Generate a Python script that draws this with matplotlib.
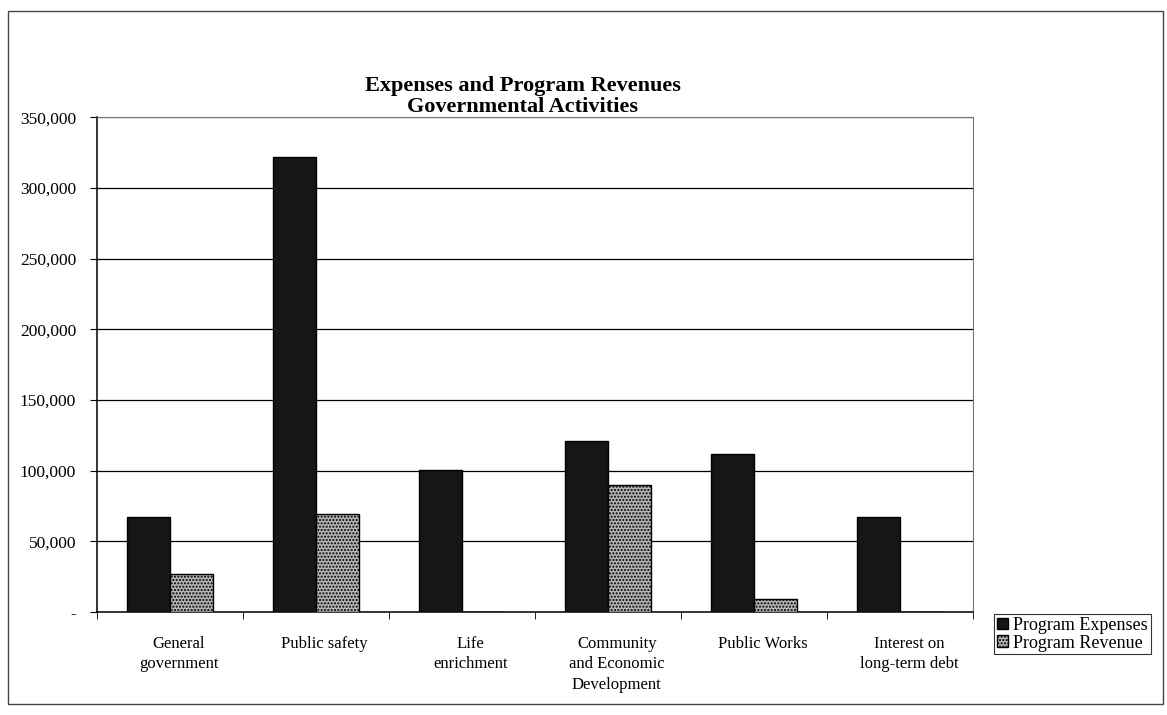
import numpy as np
import matplotlib.pyplot as plt
from matplotlib.patches import Rectangle
from matplotlib.ticker import FuncFormatter

categories = ['General\ngovernment', 'Public safety', 'Life\nenrichment',
              'Community\nand Economic\nDevelopment', 'Public Works',
              'Interest on\nlong-term debt']
program_expenses = [67000, 322000, 100500, 121000, 112000, 67000]
program_revenue = [27000, 69000, 0, 90000, 9000, 0]
y_ticks = [0, 50000, 100000, 150000, 200000, 250000, 300000, 350000]

plt.rcParams['font.family'] = ['Liberation Serif', 'DejaVu Serif']

fig = plt.figure(figsize=(11.67, 7.15), dpi=100)
ax = fig.add_axes([0.083, 0.144, 0.751, 0.692])

x = np.arange(len(categories))
w = 0.295
ax.bar(x - w / 2, program_expenses, w, color='#161616', edgecolor='black',
       linewidth=1.0, label='Program Expenses', zorder=3)
ax.bar(x + w / 2, program_revenue, w, color='#b4b4b4', edgecolor='black',
       hatch='.....', linewidth=1.0, label='Program Revenue', zorder=3)

ax.set_xlim(-0.5, len(categories) - 0.5)
ax.set_ylim(0, 350000)
ax.set_yticks(y_ticks)
ax.yaxis.set_major_formatter(FuncFormatter(lambda v, p: '-' if v == 0 else f'{int(v):,}'))
ax.grid(axis='y', color='black', linewidth=0.9, zorder=0)

# category labels at group centres, tick marks at group boundaries
ax.set_xticks(x + 0.06)
ax.set_xticklabels(categories, fontsize=12, linespacing=1.4)
ax.tick_params(axis='x', length=0, pad=17)
ax.set_xticks(np.arange(len(categories) + 1) - 0.5, minor=True)
ax.tick_params(axis='x', which='minor', length=5, direction='out')
ax.tick_params(axis='y', labelsize=12.5, length=5, direction='out', pad=10)

for side in ['top', 'right']:
    ax.spines[side].set_color('#777777')
for side in ['left', 'bottom']:
    ax.spines[side].set_color('black')
    ax.spines[side].set_linewidth(1.1)

fig.text(0.448, 0.865, 'Expenses and Program Revenues\nGovernmental Activities',
         ha='center', va='center', fontsize=16, fontweight='bold', linespacing=1.05)

leg = ax.legend(loc='lower left', bbox_to_anchor=(0.852, 0.085),
                bbox_transform=fig.transFigure, fontsize=13, frameon=True,
                fancybox=False, edgecolor='black', handlelength=0.6,
                handleheight=0.6, handletextpad=0.3, borderpad=0.15,
                labelspacing=0.05, borderaxespad=0)
leg.get_frame().set_linewidth(0.8)

# outer chart border
fig.patches.append(Rectangle((0.007, 0.015), 0.99, 0.97, transform=fig.transFigure,
                             fill=False, edgecolor='#444444', linewidth=1.0))

fig.savefig('out.png', dpi=100)
